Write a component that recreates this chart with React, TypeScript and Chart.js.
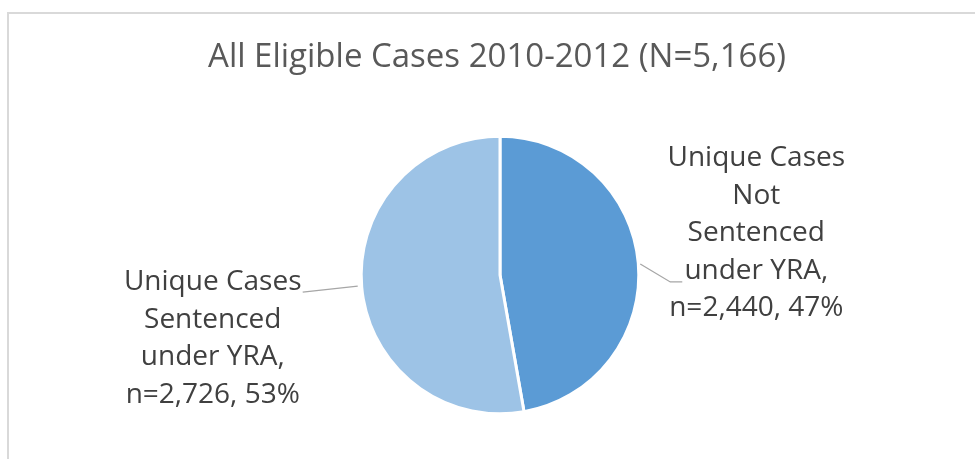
import React, { useEffect, useRef } from "react";
import { Chart, registerables } from "chart.js";

Chart.register(...registerables);

const categoryLines: string[][] = [
  ["Unique Cases", "Not", "Sentenced", "under YRA,"],
  ["Unique Cases", "Sentenced", "under YRA,"],
];
const caseCounts: number[] = [2440, 2726];
const sliceColors: string[] = ["#5B9BD5", "#9DC3E6"];
const titlePrefix = "All Eligible Cases 2010-2012";

// label layout (style): offset of label block centre from slice anchor, and leader polyline
const labelOffsets = [
  { dx: 118, dy: -29.5, leader: [[2, 1], [32, 19], [44, 19]] },
  { dx: -149, dy: 51.5, leader: [[-4, -1], [-59, 5]] },
];

const fmt = (n: number) => n.toLocaleString("en-US");

export default function App() {
  const ref = useRef<HTMLCanvasElement | null>(null);
  useEffect(() => {
    document.body.style.margin = "0";
    const total = caseCounts.reduce((a, b) => a + b, 0);
    const frame = {
      id: "frame",
      beforeDraw(chart: any) {
        const ctx = chart.ctx;
        ctx.save();
        ctx.fillStyle = "#d9d9d9";
        ctx.fillRect(7, 12, 2, chart.height);
        ctx.fillRect(7, 12, chart.width, 2);
        ctx.fillStyle = "#595959";
        ctx.font = '33px "Open Sans"';
        ctx.textAlign = "center";
        ctx.textBaseline = "middle";
        ctx.fillText(`${titlePrefix} (N=${fmt(total)})`, 497, 58);
        ctx.restore();
      },
    };
    const labels = {
      id: "outLabels",
      afterDatasetsDraw(chart: any) {
        const ctx = chart.ctx;
        const meta = chart.getDatasetMeta(0);
        meta.data.forEach((arc: any, i: number) => {
          const p = arc.getProps(["x", "y", "startAngle", "endAngle", "outerRadius"], true);
          const mid = (p.startAngle + p.endAngle) / 2;
          const ax = p.x + Math.cos(mid) * p.outerRadius;
          const ay = p.y + Math.sin(mid) * p.outerRadius;
          const o = labelOffsets[i];
          ctx.save();
          ctx.strokeStyle = "#a6a6a6";
          ctx.lineWidth = 1.3;
          ctx.beginPath();
          o.leader.forEach(([lx, ly], k) => {
            if (k === 0) ctx.moveTo(ax + lx, ay + ly);
            else ctx.lineTo(ax + lx, ay + ly);
          });
          ctx.stroke();
          const pct = Math.round((caseCounts[i] / total) * 100);
          const lines = [...categoryLines[i], `n=${fmt(caseCounts[i])}, ${pct}%`];
          const lh = 37.5;
          const cx = ax + o.dx;
          const cy = ay + o.dy;
          ctx.font = '28px "Open Sans"';
          ctx.fillStyle = "#404040";
          ctx.textAlign = "center";
          ctx.textBaseline = "middle";
          lines.forEach((t, k) => {
            ctx.fillText(t, cx, cy + (k - (lines.length - 1) / 2) * lh);
          });
          ctx.restore();
        });
      },
    };
    const chart = new Chart(ref.current!, {
      type: "pie",
      data: {
        labels: categoryLines.map((l) => l.join(" ").replace(/,$/, "")),
        datasets: [
          {
            data: caseCounts,
            backgroundColor: sliceColors,
            borderColor: "#ffffff",
            borderWidth: 3,
          },
        ],
      },
      options: {
        animation: false,
        responsive: false,
        events: [],
        layout: { padding: { top: 134.7, bottom: 43.7, left: 359.7, right: 334.7 } },
        plugins: {
          legend: { display: false },
          tooltip: { enabled: false },
          title: { display: false },
        },
      },
      plugins: [frame, labels],
    });
    return () => chart.destroy();
  }, []);
  return (
    <div style={{ width: 975, height: 459, background: "#fff" }}>
      <canvas ref={ref} width={975} height={459} style={{ display: "block" }} />
    </div>
  );
}
